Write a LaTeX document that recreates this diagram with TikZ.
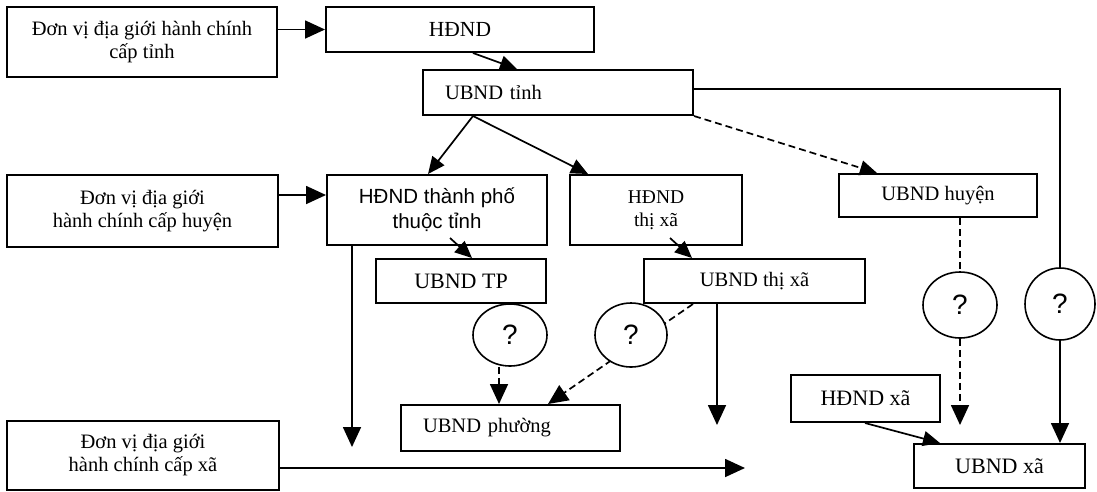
\documentclass[tikz,border=0pt]{standalone}
\usepackage{fontspec}
\setmainfont{Liberation Serif}
\newfontfamily\arialf{Liberation Sans}
\usetikzlibrary{arrows.meta,calc,shapes.geometric}
\begin{document}
\begin{tikzpicture}[x=1pt,y=-1pt,
  box/.style={draw,line width=2pt,inner sep=0pt,align=center,font=\fontsize{20.5}{23}\selectfont},
  lbox/.style={box,align=left,inner xsep=22pt},
  qc/.style={draw,line width=1.6pt,ellipse,inner sep=0pt,fill=white,font=\arialf\fontsize{28}{30}\selectfont},
  con/.style={line width=1.7pt},
  big/.style={con,-{Triangle[length=20pt,width=18pt]}},
  sm/.style={con,-{Triangle[length=17pt,width=15pt]}},
  dsh/.style={dash pattern=on 7pt off 4pt},
]
\useasboundingbox (0,0) rectangle (1097,491);

% boxes
\node[box,minimum width=270pt,minimum height=70pt] (A) at (142,42) {Đơn vị địa giới hành chính\\cấp tỉnh};
\node[box,minimum width=268pt,minimum height=45pt,font=\fontsize{21.5}{24}\selectfont] (HDND) at (460,29.5) {HĐND};
\node[lbox,text width=226pt,minimum height=45pt] (UT) at (558,92.5) {UBND tỉnh};
\node[box,minimum width=271pt,minimum height=72pt] (B) at (142.5,211) {Đơn vị địa giới\\hành chính cấp huyện};
\node[box,minimum width=220pt,minimum height=70pt,font=\arialf\fontsize{20.5}{25}\selectfont] (HTP) at (437,210) {HĐND thành phố\\thuộc tỉnh};
\node[box,minimum width=172pt,minimum height=70pt,font=\fontsize{19.5}{23}\selectfont] (HTX) at (656,210) {HĐND\\thị xã};
\node[box,minimum width=198pt,minimum height=43pt] (UH) at (938,195.5) {UBND huyện};
\node[box,minimum width=170pt,minimum height=44pt,font=\fontsize{22}{24}\selectfont] (UTP) at (461,281) {UBND TP};
\node[box,minimum width=221pt,minimum height=44pt] (UTX) at (754.5,281) {UBND thị xã};
\node[lbox,text width=175pt,minimum height=46pt] (UP) at (510.5,428) {UBND phường};
\node[box,minimum width=272pt,minimum height=69pt] (C) at (143,455.5) {Đơn vị địa giới\\hành chính cấp xã};
\node[box,minimum width=149pt,minimum height=47pt,font=\fontsize{22}{24}\selectfont] (HX) at (865.5,398.5) {HĐND xã};
\node[box,minimum width=171pt,minimum height=44pt,font=\fontsize{22}{24}\selectfont] (UX) at (999.5,466) {UBND xã};

% box-to-box connectors
\draw[big] (A.east |- HDND.west) -- (HDND.west);
\draw[sm] ([xshift=13pt]HDND.south) -- ([xshift=-41pt]UT.north);
\draw[sm] ([xshift=-85pt]UT.south) -- ([xshift=-9pt]HTP.north);
\draw[sm] ([xshift=-85pt]UT.south) -- ([xshift=-68pt]HTX.north);
\draw[sm,dsh] (UT.south east) -- ([xshift=-61pt]UH.north);
\coordinate (bArr) at ([yshift=16pt]B.east);
\draw[big] (bArr) -- (bArr -| HTP.west);
\coordinate (tpEnd) at (352,447);
\draw[big] (tpEnd |- HTP.south) -- (tpEnd);
\draw[sm] ([xshift=13pt,yshift=8pt]HTP.south) -- ([xshift=11pt]UTP.north);
\draw[sm] ([xshift=14pt,yshift=8pt]HTX.south) -- ([xshift=-62.5pt]UTX.north);
\draw[big,dsh] ([xshift=-61.5pt]UTX.south) -- ([xshift=37.5pt]UP.north);
\coordinate (txEnd) at (717,425);
\draw[big] (txEnd |- UTX.south) -- (txEnd);
\coordinate (cArr) at ([yshift=-12.5pt]C.east);
\coordinate (cEnd) at (745,468);
\draw[big] (cArr) -- (cArr -| cEnd);
\draw[sm] ([xshift=-0.5pt]HX.south) -- ([xshift=-59.5pt]UX.north);

% circles
\node[qc,minimum width=74pt,minimum height=62pt] (C1) at (510,335) {?};
\node[qc,minimum width=72pt,minimum height=64pt] (C2) at (631,335) {?};
\node[qc,minimum width=74pt,minimum height=66pt] (C3) at (960,305) {?};
\node[qc,minimum width=70pt,minimum height=72pt] (C4) at (1060,304) {?};

% circle connectors
\draw[big,dsh] ([xshift=-11pt]C1.south) -- ([xshift=-11pt]C1.south |- UP.north);
\draw[con,dsh] (C3.north |- UH.south) -- (C3.north);
\coordinate (c3End) at (960,425);
\draw[big,dsh] (C3.south) -- (c3End);
\draw[con] ([yshift=3.5pt]UT.east) -| (C4.north);
\draw[big] (C4.south) -- (UX.north -| C4.south);
\end{tikzpicture}
\end{document}
